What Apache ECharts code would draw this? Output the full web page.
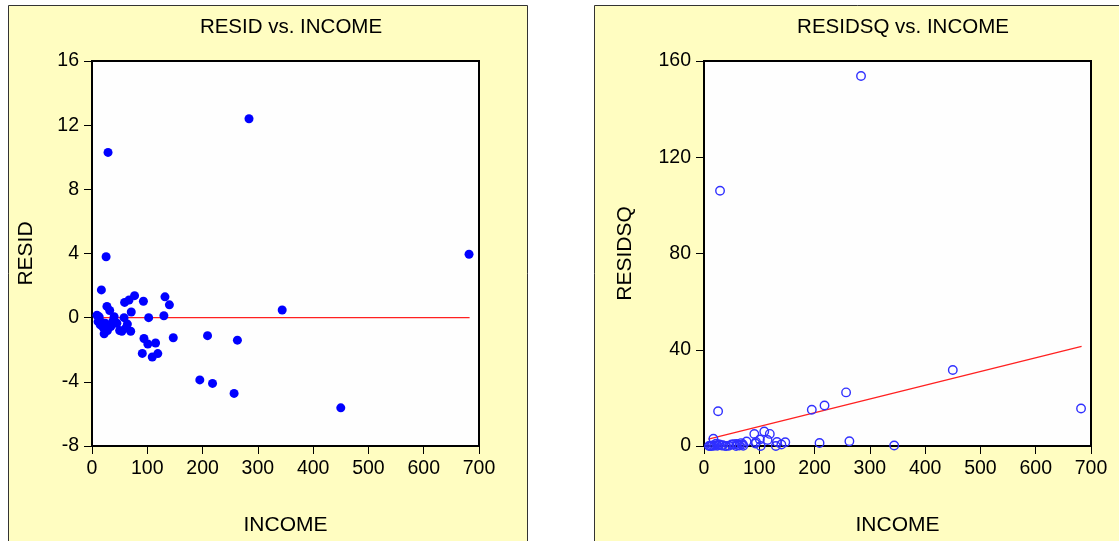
<!DOCTYPE html>
<html>
<head>
<meta charset="utf-8">
<title>RESID vs. INCOME</title>
<script src="https://cdn.jsdelivr.net/npm/echarts@6/dist/echarts.min.js"></script>
<style>
  html, body { margin: 0; padding: 0; background: #fff; }
  #chart { width: 1119px; height: 541px; }
</style>
</head>
<body>
<div id="chart"></div>
<script>
// values
var income = [9, 11, 13, 15, 17, 18, 20, 22, 24, 25.5, 27, 28, 29, 32, 34, 38, 40, 45, 50, 54,
  58, 59, 61, 64, 67, 70, 71, 77, 91, 93, 94, 101, 102.5, 109, 115, 119, 130, 132, 140, 147,
  195, 209, 218, 257, 263, 284, 344, 450, 682];
var resid = [0.15, -0.25, 0.05, -0.45, 1.73, -0.3, -0.6, -1.0, -0.35, 3.8, 0.7, -0.8, 10.3, 0.45, -0.55, -0.2, 0.06, -0.35, -0.8, -0.85,
  0.0, 0.95, -0.65, -0.4, 1.1, -0.85, 0.35, 1.37, -2.23, 1.02, -1.3, -1.64, 0.0, -2.45, -1.58, -2.24, 0.12, 1.3, 0.8, -1.25,
  -3.88, -1.12, -4.1, -4.72, -1.4, 12.4, 0.48, -5.62, 3.95];
var residsq = [0.02, 0.06, 0.00, 0.20, 2.99, 0.09, 0.36, 1.00, 0.12, 14.44, 0.49, 0.64, 106.09, 0.20, 0.30, 0.04, 0.00, 0.12, 0.64, 0.72,
  0.00, 0.90, 0.42, 0.16, 1.21, 0.72, 0.12, 1.88, 4.97, 1.04, 1.69, 2.69, 0.00, 6.00, 2.50, 5.02, 0.01, 1.69, 0.64, 1.56,
  15.05, 1.25, 16.81, 22.28, 1.96, 153.76, 0.23, 31.58, 15.60];

// fitted lines (zero line on the left, regression of RESIDSQ on INCOME on the right)
var zeroLineX = [8, 683];
var zeroLineY = [0, 0];
var fitLineX = [8, 683];
var fitLineY = [2.9, 41.4];

var xTicks = [0, 100, 200, 300, 400, 500, 600, 700];
var residTicks = [-8, -4, 0, 4, 8, 12, 16];
var residsqTicks = [0, 40, 80, 120, 160];

function pairs(xs, ys) {
  return xs.map(function (x, i) { return [x, ys[i]]; });
}

var font = "'Liberation Sans', Arial, sans-serif";
var panelFill = '#FFFDC1';

function xAxisFor(gridIndex) {
  return {
    gridIndex: gridIndex,
    type: 'value',
    min: xTicks[0],
    max: xTicks[xTicks.length - 1],
    interval: xTicks[1] - xTicks[0],
    name: 'INCOME',
    nameLocation: 'middle',
    nameGap: 69,
    nameTextStyle: { fontFamily: font, fontSize: 21, color: '#000' },
    axisLine: { show: true, onZero: false, lineStyle: { color: '#000', width: 2 } },
    axisTick: { show: true, length: 8, lineStyle: { color: '#000', width: 1 } },
    axisLabel: { fontFamily: font, fontSize: 19.5, color: '#000', margin: 13 },
    splitLine: { show: false }
  };
}

function yAxisFor(gridIndex, name, ticks, gap) {
  return {
    gridIndex: gridIndex,
    type: 'value',
    min: ticks[0],
    max: ticks[ticks.length - 1],
    interval: ticks[1] - ticks[0],
    name: name,
    nameLocation: 'middle',
    nameGap: gap,
    nameTextStyle: { fontFamily: font, fontSize: 21, color: '#000' },
    axisLine: { show: true, onZero: false, lineStyle: { color: '#000', width: 2 } },
    axisTick: { show: true, length: 8, lineStyle: { color: '#000', width: 1 } },
    axisLabel: { fontFamily: font, fontSize: 19.5, color: '#000', margin: 13 },
    splitLine: { show: false }
  };
}

var chart = echarts.init(document.getElementById('chart'), null, { renderer: 'canvas' });

chart.setOption({
  animation: false,
  backgroundColor: '#fff',
  graphic: [
    { type: 'rect', z: -10, shape: { x: 8.5, y: 5.5, width: 519, height: 600 },
      style: { fill: panelFill, stroke: '#333', lineWidth: 1 } },
    { type: 'rect', z: -10, shape: { x: 594.5, y: 5.5, width: 600, height: 600 },
      style: { fill: panelFill, stroke: '#333', lineWidth: 1 } }
  ],
  title: [
    { text: 'RESID vs. INCOME', left: 286, top: 12, textAlign: 'center',
      textStyle: { fontFamily: font, fontSize: 20.5, fontWeight: 'normal', color: '#000' } },
    { text: 'RESIDSQ vs. INCOME', left: 898, top: 12, textAlign: 'center',
      textStyle: { fontFamily: font, fontSize: 20.5, fontWeight: 'normal', color: '#000' } }
  ],
  grid: [
    { left: 92, top: 61, width: 387, height: 385, show: true,
      backgroundColor: '#FEFEFE', borderColor: '#000', borderWidth: 2 },
    { left: 704, top: 61, width: 387, height: 385, show: true,
      backgroundColor: '#FEFEFE', borderColor: '#000', borderWidth: 2 }
  ],
  xAxis: [xAxisFor(0), xAxisFor(1)],
  yAxis: [
    yAxisFor(0, 'RESID', residTicks, 55),
    yAxisFor(1, 'RESIDSQ', residsqTicks, 68)
  ],
  series: [
    {
      type: 'line', xAxisIndex: 0, yAxisIndex: 0,
      data: pairs(zeroLineX, zeroLineY),
      symbol: 'none', lineStyle: { color: '#FF2020', width: 1.3 }, z: 2
    },
    {
      type: 'scatter', xAxisIndex: 0, yAxisIndex: 0,
      data: pairs(income, resid),
      symbol: 'circle', symbolSize: 9,
      itemStyle: { color: '#0000FF', opacity: 1 }, z: 3
    },
    {
      type: 'line', xAxisIndex: 1, yAxisIndex: 1,
      data: pairs(fitLineX, fitLineY),
      symbol: 'none', lineStyle: { color: '#FF2020', width: 1.3 }, z: 2
    },
    {
      type: 'scatter', xAxisIndex: 1, yAxisIndex: 1,
      data: pairs(income, residsq),
      symbol: 'circle', symbolSize: 8.5,
      itemStyle: { color: 'rgba(0,0,0,0)', borderColor: '#3030FF', borderWidth: 1.4, opacity: 1 }, z: 3
    }
  ]
});
</script>
</body>
</html>
